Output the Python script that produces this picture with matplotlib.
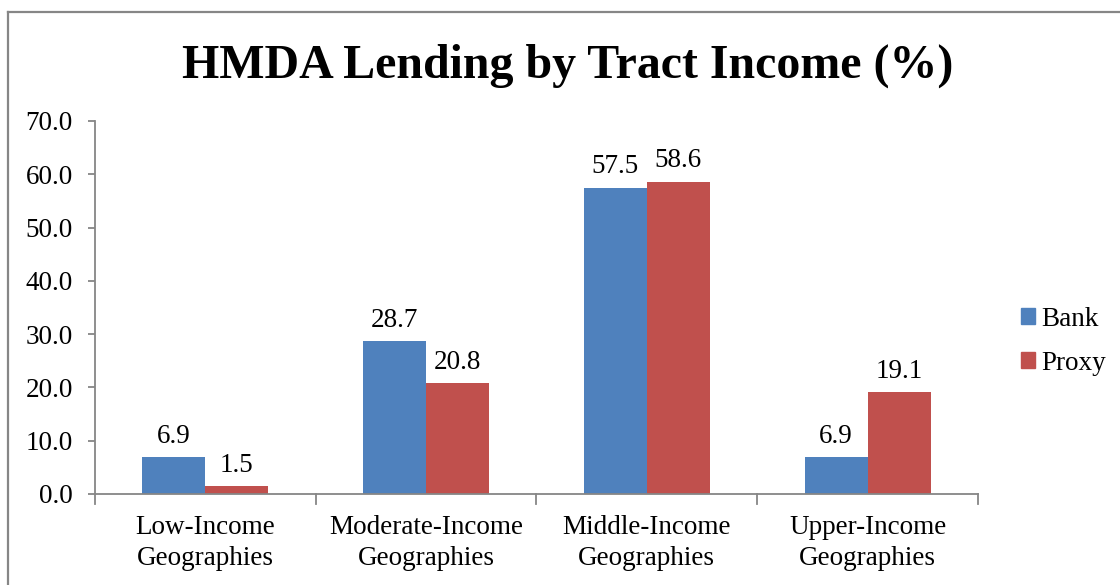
import matplotlib
matplotlib.use("Agg")
import matplotlib.pyplot as plt
from matplotlib.lines import Line2D
import numpy as np

categories = ["Low-Income\nGeographies", "Moderate-Income\nGeographies",
              "Middle-Income\nGeographies", "Upper-Income\nGeographies"]
bank = [6.9, 28.7, 57.5, 6.9]
proxy = [1.5, 20.8, 58.6, 19.1]
series_names = ["Bank", "Proxy"]
yticks = [0, 10, 20, 30, 40, 50, 60, 70]

BLUE = "#4F81BD"
RED = "#C0504D"
AXIS_GRAY = "#868686"
FS = 19.5

plt.rcParams["font.family"] = ["Liberation Serif", "DejaVu Serif"]

fig = plt.figure(figsize=(11.2, 5.85), dpi=100)
ax = fig.add_axes([0.0848, 0.1556, 0.7884, 0.6376])

x = np.arange(len(categories))
w = 0.285
b1 = ax.bar(x - w / 2, bank, w, color=BLUE, label=series_names[0])
b2 = ax.bar(x + w / 2, proxy, w, color=RED, label=series_names[1])

for bars, vals in ((b1, bank), (b2, proxy)):
    for rect, v in zip(bars, vals):
        ax.annotate(f"{v:.1f}", (rect.get_x() + rect.get_width() / 2, v),
                    xytext=(0, 6), textcoords="offset points",
                    ha="center", va="bottom", fontsize=FS)

ax.set_xlim(-0.5, len(categories) - 0.5)
ax.set_ylim(0, 70)
ax.set_yticks(yticks)
ax.set_yticklabels([f"{t:.1f}" for t in yticks], fontsize=FS)
ax.set_xticks(x)
ax.set_xticklabels(categories, fontsize=FS, linespacing=1.3)
ax.tick_params(axis="x", length=0, pad=15)
ax.tick_params(axis="y", length=5, color=AXIS_GRAY, width=1.3, pad=11)

# category boundary ticks below the x axis
for xb in np.arange(-0.5, len(categories), 1.0):
    ax.plot([xb, xb], [0, -1.9], color=AXIS_GRAY, lw=1.3, clip_on=False)

for s in ("top", "right"):
    ax.spines[s].set_visible(False)
for s in ("left", "bottom"):
    ax.spines[s].set_color(AXIS_GRAY)
    ax.spines[s].set_linewidth(1.3)

fig.text(0.507, 0.888, "HMDA Lending by Tract Income (%)", ha="center", va="center",
         fontsize=34.5, fontweight="bold")

handles = [plt.Rectangle((0, 0), 1, 1, color=BLUE), plt.Rectangle((0, 0), 1, 1, color=RED)]
fig.legend(handles, series_names, loc="center left", bbox_to_anchor=(0.902, 0.417),
           frameon=False, fontsize=FS, handlelength=0.5, handleheight=0.5,
           handletextpad=0.25, labelspacing=0.7, borderaxespad=0)

# outer chart border (runs off the right and bottom edges)
fig.add_artist(Line2D([8 / 1120, 1.0], [1 - 11.5 / 585, 1 - 11.5 / 585],
                      transform=fig.transFigure, color=AXIS_GRAY, lw=1.6))
fig.add_artist(Line2D([8 / 1120, 8 / 1120], [0.0, 1 - 11.5 / 585],
                      transform=fig.transFigure, color=AXIS_GRAY, lw=1.6))

fig.savefig("out.png", dpi=100)
